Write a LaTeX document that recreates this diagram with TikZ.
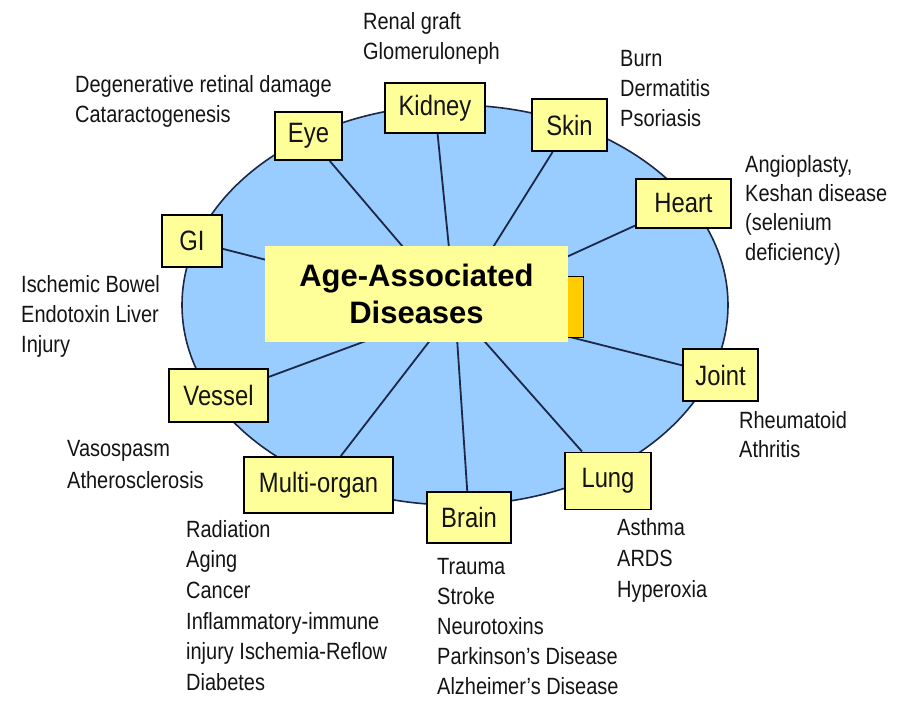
\documentclass[tikz,border=0pt]{standalone}
\usepackage{fontspec}
\setmainfont{Liberation Sans}[FakeStretch=0.85]
\newfontfamily\ctrfont{Liberation Sans}
\usetikzlibrary{backgrounds}
\definecolor{blobblue}{RGB}{153,204,255}
\definecolor{boxyellow}{RGB}{255,255,153}
\definecolor{orng}{RGB}{255,204,0}
\definecolor{edgeblue}{RGB}{28,40,70}
\definecolor{txt}{RGB}{20,20,20}
\begin{document}
\begin{tikzpicture}[x=1pt,y=-1pt,
  organ/.style={draw=black, line width=1.8pt, fill=boxyellow, inner sep=0pt, text=txt,
    font=\fontsize{28}{32}\selectfont},
  note/.style={anchor=north west, align=left, inner sep=0pt, text=txt,
    font=\fontsize{23.5}{30}\selectfont},
  spoke/.style={draw=edgeblue, line width=1.8pt}]
\useasboundingbox (0,0) rectangle (898,704);

% centre
\coordinate (hub) at (455,308);
\node[fill=orng, draw=black, line width=1pt, minimum width=45pt, minimum height=61pt, inner sep=0pt] (orangebox) at (561,306.5) {};
\node[fill=boxyellow, minimum width=303pt, minimum height=96pt, inner sep=0pt, align=center,
  font=\ctrfont\bfseries\fontsize{31}{37}\selectfont] (ctr) at (416.5,294) {Age-Associated\\Diseases};

% organ boxes
\node[organ, minimum width=100pt, minimum height=50pt] (kidney) at (435,108) {Kidney};
\node[organ, minimum width=67pt, minimum height=48pt] (eye) at (308.5,136) {Eye};
\node[organ, minimum width=60pt, minimum height=52pt] (gi) at (192,241) {GI};
\node[organ, minimum width=75pt, minimum height=52pt] (skin) at (569.5,125) {Skin};
\node[organ, minimum width=95pt, minimum height=49pt] (heart) at (683.5,203.5) {Heart};
\node[organ, minimum width=75pt, minimum height=52pt] (joint) at (720.5,375) {Joint};
\node[organ, minimum width=86pt, minimum height=57pt] (lung) at (608,481) {Lung};
\node[organ, minimum width=84pt, minimum height=51pt] (brain) at (469,517.5) {Brain};
\node[organ, minimum width=149pt, minimum height=56pt] (multi) at (318.5,485) {Multi-organ};
\node[organ, minimum width=99pt, minimum height=53pt] (vessel) at (218.5,395.5) {Vessel};

% background: page, ellipse and spokes
\begin{scope}[on background layer]
  \fill[white] (0,0) rectangle (898,704);
  \draw[fill=blobblue, draw=edgeblue, line width=1.6pt] (455,305) ellipse [x radius=273pt, y radius=200pt];
  \foreach \n in {kidney,eye,gi,skin,heart,joint,lung,brain,multi,vessel}
    \draw[spoke] (hub) -- (\n);
\end{scope}

% notes
\node[note] (nkidney) at (363,12) {Renal graft\\Glomeruloneph};
\node[note] (neye) at (75,75) {Degenerative retinal damage\\Cataractogenesis};
\node[note] (nskin) at (620,50) {Burn\\Dermatitis\\Psoriasis};
\node[note, font=\fontsize{23.5}{29.3}\selectfont] (nheart) at (745,155) {Angioplasty,\\Keshan disease\\(selenium\\deficiency)};
\node[note] (ngi) at (21,275) {Ischemic Bowel\\Endotoxin Liver\\Injury};
\node[note, font=\fontsize{23.5}{32}\selectfont] (nvessel) at (67,440) {Vasospasm\\Atherosclerosis};
\node[note, font=\fontsize{23.5}{30.6}\selectfont] (nmulti) at (186,520) {Radiation\\Aging\\Cancer\\Inflammatory-immune\\injury Ischemia-Reflow\\Diabetes};
\node[note] (nbrain) at (437,558) {Trauma\\Stroke\\Neurotoxins\\Parkinson’s Disease\\Alzheimer’s Disease};
\node[note, font=\fontsize{23.5}{31}\selectfont] (nlung) at (617,518) {Asthma\\ARDS\\Hyperoxia};
\node[note, font=\fontsize{23.5}{29}\selectfont] (njoint) at (739,411) {Rheumatoid\\Athritis};
\end{tikzpicture}
\end{document}
